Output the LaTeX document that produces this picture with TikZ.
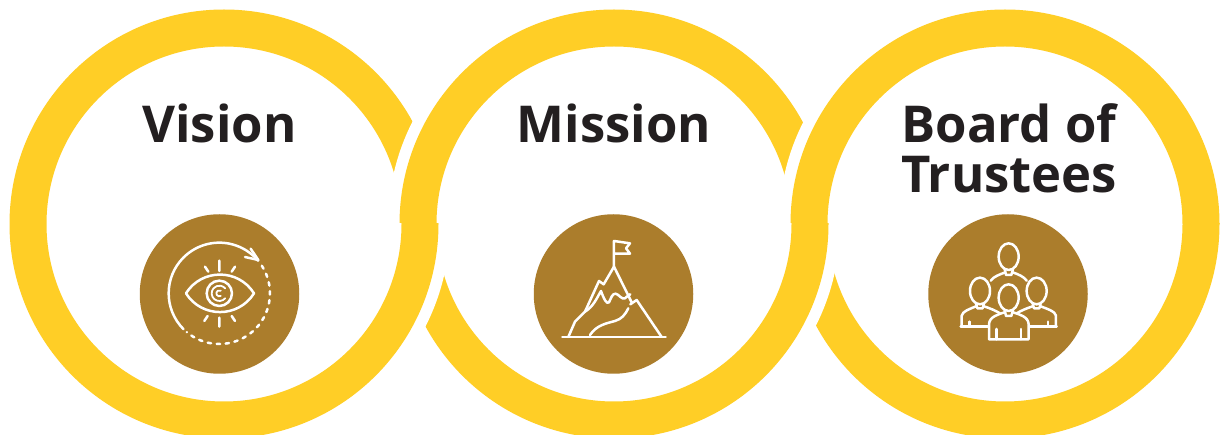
\documentclass[tikz,border=0pt]{standalone}
\usepackage{fontspec}
\setmainfont{Open Sans}[BoldFont={Open Sans Bold}]
\definecolor{ringy}{HTML}{FFCE26}
\definecolor{discb}{HTML}{AB7D2C}
\definecolor{inkt}{HTML}{231F20}
\tikzset{
  ringband/.style={fill=ringy,even odd rule},
  halo/.style={fill=white},
  disc/.style={circle,fill=discb,minimum size=159.5pt,inner sep=0pt,outer sep=0pt},
  title/.style={font=\fontsize{50.8}{50.5}\selectfont\bfseries,text=inkt,inner sep=0pt,align=center},
  icon/.style={draw=white,line width=2.5pt,line cap=round,line join=round},
}
\newcommand{\ringat}[1]{\fill[ringband] (#1,224) circle (214.5) (#1,224) circle (177.5);}
\newcommand{\haloat}[1]{\fill[halo] (#1,224) circle (226);}
\begin{document}
\begin{tikzpicture}[x=1pt,y=-1pt]
\useasboundingbox (0,0) rectangle (1221,435);
\fill[white] (0,0) rectangle (1221,435);
\begin{scope}
  \clip (0,0) rectangle (1221,224);
  \ringat{224}
  \haloat{614}\ringat{614}
  \haloat{1005}\ringat{1005}
\end{scope}
\begin{scope}
  \clip (0,224) rectangle (1221,435);
  \ringat{1005}
  \haloat{614}\ringat{614}
  \haloat{224}\ringat{224}
\end{scope}
\node[disc] (d1) at (219.5,294) {};
\node[disc] (d2) at (613.5,294) {};
\node[disc] (d3) at (1008,294) {};
\node[title,anchor=base] (t1) at (219.5,143) {Vision};
\node[title,anchor=base] (t2) at (614,143) {Mission};
\node[title,anchor=south] (t3) at (1009,193.5) {Board of\\Trustees};
% eye icon
\begin{scope}[shift={(130,205)},x=0.3333pt,y=-0.3333pt]
  \draw[icon] (268,265)++(135:152) arc[start angle=135,end angle=320,radius=152];
  \draw[icon] (385,165) -- (362,131) (385,165) -- (345,156);
  \draw[icon,dash pattern=on 3.4pt off 5.6pt] (268,265)++(-33:152) arc[start angle=-33,end angle=130,radius=152];
  \draw[icon] (168,265) .. controls (215,190) and (325,190) .. (372,265) .. controls (325,340) and (215,340) .. (168,265);
  \draw[icon] (268,265) circle (38);
  \draw[icon,line width=1.8pt] (268,265)++(40:23) arc[start angle=40,end angle=320,radius=23];
  \draw[icon,line width=1.8pt] (268,265)++(60:9) arc[start angle=60,end angle=300,radius=9];
  \draw[icon] (268,167) -- (268,198) (225,185) -- (235,200) (315,185) -- (305,200)
              (268,338) -- (268,365) (233,333) -- (223,348) (305,333) -- (315,348);
\end{scope}
% mountain icon
\begin{scope}[shift={(525,205)},x=0.3333pt,y=-0.3333pt]
  \draw[icon] (112,396) -- (422,396);
  \draw[icon] (267,185) -- (267,108) -- (315,115) -- (303,130) -- (315,146) -- (267,146);
  \draw[icon] (130,396) -- (150,350) -- (180,320) -- (222,228) -- (236,238) -- (267,185) -- (320,292);
  \draw[icon] (316,298) -- (335,285) -- (410,396);
  \draw[icon] (180,320) .. controls (205,305) and (215,280) .. (228,258) .. controls (236,280) and (245,300) .. (252,292) .. controls (258,280) and (262,265) .. (272,266) .. controls (282,268) and (290,285) .. (300,280) .. controls (308,275) and (310,268) .. (316,268);
  \draw[icon] (195,390) .. controls (215,360) and (245,355) .. (270,348) .. controls (290,342) and (300,330) .. (310,310);
\end{scope}
% people icon
\begin{scope}[shift={(920,205)},x=0.3333pt,y=-0.3333pt]
  \draw[icon] (266,155) ellipse (30 and 40);
  \draw[icon] (180,258) ellipse (30 and 40);
  \draw[icon] (350,258) ellipse (30 and 40);
  \draw[icon] (266,278) ellipse (30 and 40);
  \draw[icon] (254,192) -- (258,210) -- (274,210) -- (279,192);
  \draw[icon] (212,227) .. controls (220,215) and (240,208) .. (256,202);
  \draw[icon] (278,202) .. controls (295,208) and (312,215) .. (320,227);
  \draw[icon] (168,295) -- (172,310) -- (188,310) -- (192,295);
  \draw[icon] (338,295) -- (342,310) -- (358,310) -- (362,295);
  \draw[icon] (254,315) -- (258,333) -- (274,333) -- (279,315);
  \draw[icon] (122,365) -- (205,365) (330,365) -- (410,365);
  \draw[icon] (125,365) -- (125,332) .. controls (128,318) and (150,312) .. (168,304);
  \draw[icon] (192,304) .. controls (210,310) and (225,316) .. (240,325);
  \draw[icon] (408,365) -- (408,332) .. controls (405,318) and (382,312) .. (362,304);
  \draw[icon] (338,304) .. controls (320,310) and (305,316) .. (290,325);
  \draw[icon] (148,365) -- (148,350) (384,365) -- (384,350);
  \draw[icon] (254,322) .. controls (235,328) and (208,335) .. (207,358) -- (207,403) -- (326,403) -- (326,358) .. controls (325,335) and (298,328) .. (279,322);
  \draw[icon] (230,403) -- (230,372) (303,403) -- (303,372);
\end{scope}
\end{tikzpicture}
\end{document}
